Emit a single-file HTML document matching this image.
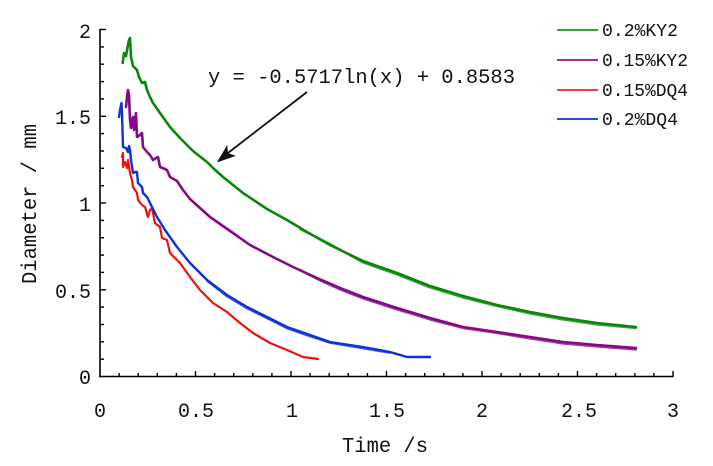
<!DOCTYPE html>
<html>
<head>
<meta charset="utf-8">
<style>
  html, body { margin: 0; padding: 0; background: #ffffff; }
  svg { display: block; }
  text { font-family: "Liberation Mono", "DejaVu Sans Mono", monospace; fill: #111; }
</style>
</head>
<body>
<svg width="713" height="466" viewBox="0 0 713 466" xmlns="http://www.w3.org/2000/svg">
  <rect width="713" height="466" fill="#ffffff"/>

  <!-- Axes -->
  <g stroke="#000" stroke-width="1.6" fill="none">
    <line x1="100" y1="29" x2="100" y2="377.2"/>
    <line x1="99.2" y1="376.5" x2="673.5" y2="376.5"/>
  </g>

  <!-- Y ticks -->
  <g stroke="#000" stroke-width="1.4">
    <line x1="100" y1="29.5" x2="106" y2="29.5"/>
    <line x1="100" y1="46.9" x2="104" y2="46.9"/>
    <line x1="100" y1="64.2" x2="104" y2="64.2"/>
    <line x1="100" y1="81.6" x2="104" y2="81.6"/>
    <line x1="100" y1="98.9" x2="104" y2="98.9"/>
    <line x1="100" y1="116.3" x2="106" y2="116.3"/>
    <line x1="100" y1="133.6" x2="104" y2="133.6"/>
    <line x1="100" y1="151.0" x2="104" y2="151.0"/>
    <line x1="100" y1="168.3" x2="104" y2="168.3"/>
    <line x1="100" y1="185.7" x2="104" y2="185.7"/>
    <line x1="100" y1="203.0" x2="106" y2="203.0"/>
    <line x1="100" y1="220.4" x2="104" y2="220.4"/>
    <line x1="100" y1="237.7" x2="104" y2="237.7"/>
    <line x1="100" y1="255.1" x2="104" y2="255.1"/>
    <line x1="100" y1="272.4" x2="104" y2="272.4"/>
    <line x1="100" y1="289.8" x2="106" y2="289.8"/>
    <line x1="100" y1="307.1" x2="104" y2="307.1"/>
    <line x1="100" y1="324.5" x2="104" y2="324.5"/>
    <line x1="100" y1="341.8" x2="104" y2="341.8"/>
    <line x1="100" y1="359.2" x2="104" y2="359.2"/>
  </g>

  <!-- X ticks -->
  <g stroke="#000" stroke-width="1.4">
    <line x1="119.1" y1="376.5" x2="119.1" y2="373"/>
    <line x1="138.2" y1="376.5" x2="138.2" y2="373"/>
    <line x1="157.3" y1="376.5" x2="157.3" y2="373"/>
    <line x1="176.4" y1="376.5" x2="176.4" y2="373"/>
    <line x1="195.5" y1="376.5" x2="195.5" y2="371"/>
    <line x1="214.6" y1="376.5" x2="214.6" y2="373"/>
    <line x1="233.7" y1="376.5" x2="233.7" y2="373"/>
    <line x1="252.8" y1="376.5" x2="252.8" y2="373"/>
    <line x1="271.9" y1="376.5" x2="271.9" y2="373"/>
    <line x1="291.0" y1="376.5" x2="291.0" y2="371"/>
    <line x1="310.1" y1="376.5" x2="310.1" y2="373"/>
    <line x1="329.2" y1="376.5" x2="329.2" y2="373"/>
    <line x1="348.3" y1="376.5" x2="348.3" y2="373"/>
    <line x1="367.4" y1="376.5" x2="367.4" y2="373"/>
    <line x1="386.5" y1="376.5" x2="386.5" y2="371"/>
    <line x1="405.6" y1="376.5" x2="405.6" y2="373"/>
    <line x1="424.7" y1="376.5" x2="424.7" y2="373"/>
    <line x1="443.8" y1="376.5" x2="443.8" y2="373"/>
    <line x1="462.9" y1="376.5" x2="462.9" y2="373"/>
    <line x1="482.0" y1="376.5" x2="482.0" y2="371"/>
    <line x1="501.1" y1="376.5" x2="501.1" y2="373"/>
    <line x1="520.2" y1="376.5" x2="520.2" y2="373"/>
    <line x1="539.3" y1="376.5" x2="539.3" y2="373"/>
    <line x1="558.4" y1="376.5" x2="558.4" y2="373"/>
    <line x1="577.5" y1="376.5" x2="577.5" y2="371"/>
    <line x1="596.6" y1="376.5" x2="596.6" y2="373"/>
    <line x1="615.7" y1="376.5" x2="615.7" y2="373"/>
    <line x1="634.8" y1="376.5" x2="634.8" y2="373"/>
    <line x1="653.9" y1="376.5" x2="653.9" y2="373"/>
    <line x1="673.0" y1="376.5" x2="673.0" y2="371"/>
  </g>

  <!-- Y tick labels -->
  <g font-size="20" text-anchor="end">
    <text x="91" y="38">2</text>
    <text x="91" y="124">1.5</text>
    <text x="91" y="211">1</text>
    <text x="91" y="298">0.5</text>
    <text x="91" y="384">0</text>
  </g>

  <!-- X tick labels -->
  <g font-size="20" text-anchor="middle">
    <text x="100" y="417">0</text>
    <text x="196" y="417">0.5</text>
    <text x="292" y="417">1</text>
    <text x="387" y="417">1.5</text>
    <text x="482" y="417">2</text>
    <text x="579" y="417">2.5</text>
    <text x="673" y="417">3</text>
  </g>

  <!-- Axis titles -->
  <text x="342" y="452" font-size="21" textLength="86" lengthAdjust="spacingAndGlyphs">Time /s</text>
  <text transform="translate(36,204) rotate(-90)" x="0" y="0" font-size="21" text-anchor="middle" textLength="160" lengthAdjust="spacingAndGlyphs">Diameter / mm</text>

  <!-- Equation -->
  <text x="208" y="83" font-size="20" textLength="307" lengthAdjust="spacingAndGlyphs">y = -0.5717ln(x) + 0.8583</text>

  <!-- Arrow -->
  <line x1="307" y1="92" x2="226" y2="154.5" stroke="#111" stroke-width="1.8"/>
  <polygon points="218,161.5 234.3,155.9 227.5,153.5 226.9,146.5" fill="#111" stroke="#111" stroke-width="1"/>

  <!-- Series -->
  <g fill="none" stroke-linejoin="round" stroke-linecap="round">
    <!-- 0.2%KY2 green -->
    <polyline stroke="#0a870a" stroke-width="2.6" points="122.7,63 124,53 126,56 128,45 129,40 130,38 131,57 133,66 135,68 137,70 139,77 142,83 145,82 147,90 150,97 153,103 160,113 170,127 180,138 193,151 207,162 213,168 223,177 243,193 267,209 287,220 307,232 330,245 363,261 397,273 430,286 463,296 497,305 530,312 563,318 597,323 636,327"/>
    <polyline stroke="#0a870a" stroke-width="2.2" opacity="0.8" points="300,229 330,244 363,262.5 397,274.5 430,287.5 463,297.5 497,306 530,313.5 563,319.5 597,324.5 636,328"/>
    <!-- 0.15%KY2 purple -->
    <polyline stroke="#850a85" stroke-width="2.6" points="126,107 127,97 128,90 129,95 130,120 131,128 133,117 134,130 136,113 137,137 140,135 142,133 143,147 147,152 150,155 153,160 156,158 158,157 160,167 165,169 167,170 170,177 177,181 183,190 190,199 200,208 210,217 233,233 250,245 273,257 293,267 317,278 340,288 363,297 397,308 430,318 463,327 497,332 530,337 563,342 597,345 636,348"/>
    <polyline stroke="#850a85" stroke-width="2.2" opacity="0.8" points="300,270 317,279 340,289.5 363,298.5 397,309.5 430,319.5 463,328 497,333 530,338.5 563,343.5 597,346.5 636,349.5"/>
    <!-- 0.15%DQ4 red -->
    <polyline stroke="#f01010" stroke-width="2.2" points="122,157 123,153 123,167 125,162 127,168 128,160 130,173 132,180 133,187 135,190 137,193 138,200 142,205 145,207 148,217 150,210 152,208 155,223 160,227 162,238 167,240 170,253 180,263 190,277 200,290 213,303 227,312 240,323 253,333 270,343 287,350 303,357 318,359"/>
    <!-- 0.2%DQ4 blue -->
    <polyline stroke="#0c32d8" stroke-width="2.4" points="119,117 120,110 121.5,103 122,113 123,147 126,148 128,152 129,146 130,150 131,160 133,173 135,172 137,172 138,183 142,187 143,193 147,197 150,203 157,217 165,230 177,247 190,263 207,280 227,295 247,307 267,317 287,327 310,335 330,342 363,347 390,352 407,357 430,357"/>
    <polyline stroke="#0c32d8" stroke-width="1.8" opacity="0.8" points="207,281 227,296.5 247,308.5 267,318.5 287,328.5 310,336.5 330,343 363,348.5 390,353"/>
  </g>

  <!-- Legend -->
  <g stroke-width="2">
    <line x1="557" y1="30" x2="598" y2="30" stroke="#2ea82e"/>
    <line x1="557" y1="60" x2="598" y2="60" stroke="#9a2f9e"/>
    <line x1="557" y1="90" x2="598" y2="90" stroke="#f24040"/>
    <line x1="557" y1="119" x2="598" y2="119" stroke="#2a4ae0"/>
  </g>
  <g font-size="18">
    <text x="602" y="36" textLength="76" lengthAdjust="spacingAndGlyphs">0.2%KY2</text>
    <text x="602" y="66" textLength="86" lengthAdjust="spacingAndGlyphs">0.15%KY2</text>
    <text x="602" y="96" textLength="86" lengthAdjust="spacingAndGlyphs">0.15%DQ4</text>
    <text x="602" y="125" textLength="76" lengthAdjust="spacingAndGlyphs">0.2%DQ4</text>
  </g>
</svg>
</body>
</html>
